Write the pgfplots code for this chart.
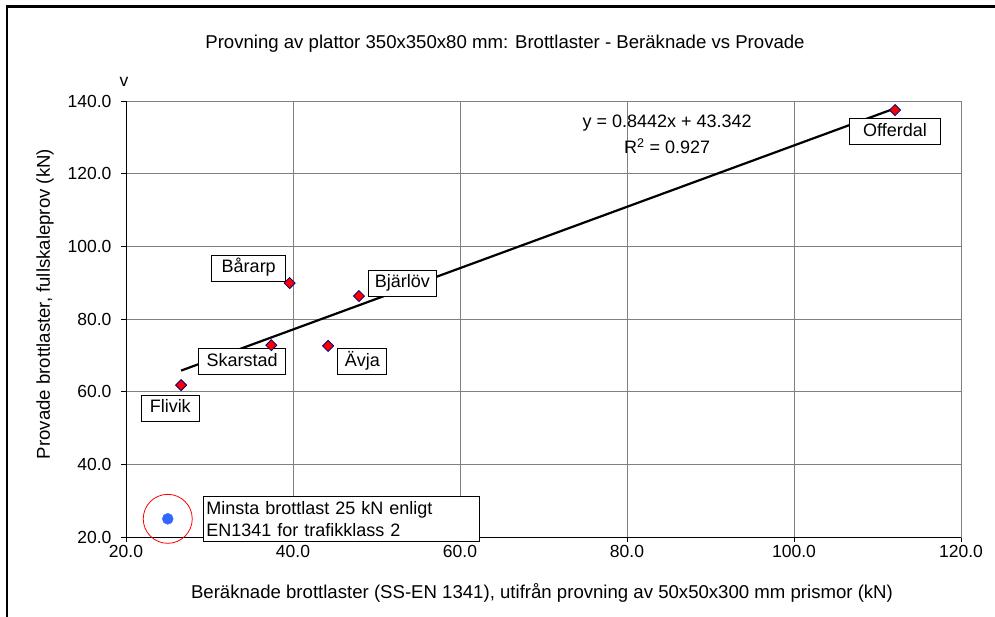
\documentclass[border=0pt]{standalone}
\usepackage{pgfplots}
\pgfplotsset{compat=1.18}
\usepackage{fontspec}
\setmainfont{Liberation Sans}
\newcommand\f{\fontsize{17.5}{21}\selectfont}
\newcommand\fl{\fontsize{18.6}{22}\selectfont}
\newcommand\fb{\fontsize{18}{22}\selectfont}
\definecolor{gridgray}{RGB}{128,128,128}
\definecolor{edgeblue}{RGB}{0,0,128}
\definecolor{ptblue}{RGB}{51,102,255}
\tikzset{label box/.style={draw=black, fill=white, line width=0.9pt, font=\fb, text height=13.5pt, text depth=4pt, inner ysep=4.3pt, inner xsep=2pt}}
\begin{document}
\begin{tikzpicture}[font=\f]
\useasboundingbox (0pt,0pt) rectangle (995pt,616pt);
\draw[line width=2.2pt] (7pt,-20pt) -- (7pt,609.5pt) -- (1020pt,609.5pt);
\node[font=\fl] at (505pt,572pt) {Provning av plattor 350x350x80 mm: Brottlaster - Beräknade vs Provade};
\node at (124pt,534pt) {v};
\node[rotate=90, font=\fl] at (45pt,312pt) {Provade brottlaster, fullskaleprov (kN)};
\node[font=\fl] at (542pt,23pt) {Beräknade brottlaster (SS-EN 1341), utifrån provning av 50x50x300 mm prismor (kN)};
\begin{axis}[
  at={(126pt,79pt)}, anchor=south west, scale only axis,
  width=835pt, height=436pt,
  xmin=20, xmax=120, ymin=20, ymax=140,
  xtick={20,40,60,80,100,120}, ytick={20,40,60,80,100,120,140},
  grid=major, major grid style={gridgray, line width=0.9pt},
  axis line style={gridgray, line width=0.9pt},
  tick align=outside, xtick pos=bottom, ytick pos=left,
  major tick length=5pt, tick style={black, line width=0.9pt},
  tick label style={font=\f},
  yticklabel style={xshift=-6pt},
  /pgf/number format/.cd, fixed, fixed zerofill, precision=1, assume math mode=true,
  /pgfplots/.cd,
  clip=false
]
\draw[black, line width=1pt] (rel axis cs:0,1) -- (rel axis cs:0,0) -- (rel axis cs:1,0);
% trend line
\addplot[black, line width=2.2pt] coordinates {(26.6,65.80) (112.1,137.98)};
% data
\addplot[only marks, mark=square*, mark size=3.9pt, mark options={rotate=45, fill=red, draw=edgeblue, line width=0.8pt}] coordinates {
  (26.6,61.8) (37.4,72.8) (39.6,89.9) (44.2,72.6) (47.9,86.3) (112.1,137.5)
};
% minimum requirement
\addplot[only marks, mark=o, mark size=24.5pt, mark options={draw=red, line width=0.8pt}] coordinates {(25,25)};
\addplot[only marks, mark=*, mark size=5.5pt, mark options={fill=ptblue, draw=ptblue}] coordinates {(25,25)};
% labels
\node[label box, minimum width=91pt] at (axis cs:112.1,131.5) {Offerdal};
\node[label box, minimum width=74pt] at (axis cs:34.7,94.0) {Bårarp};
\node[label box, minimum width=68pt] at (axis cs:53.1,89.9) {Bjärlöv};
\node[label box, minimum width=87pt] at (axis cs:33.9,68.2) {Skarstad};
\node[label box, minimum width=49pt] at (axis cs:48.3,68.2) {Ävja};
\node[label box, minimum width=58pt] at (axis cs:25.3,55.5) {Flivik};
\node[draw=black, fill=white, line width=0.9pt, anchor=west, text width=270pt, inner xsep=3pt, inner ysep=5pt, align=left, font=\fontsize{18}{22}\selectfont] at (axis cs:29.2,25) {Minsta brottlast 25 kN enligt\\EN1341 for trafikklass 2};
\node[align=center, font=\fontsize{18}{26}\selectfont] at (axis cs:84.8,130.7) {y = 0.8442x + 43.342\\R\textsuperscript{2} = 0.927};
\end{axis}
\end{tikzpicture}
\end{document}
